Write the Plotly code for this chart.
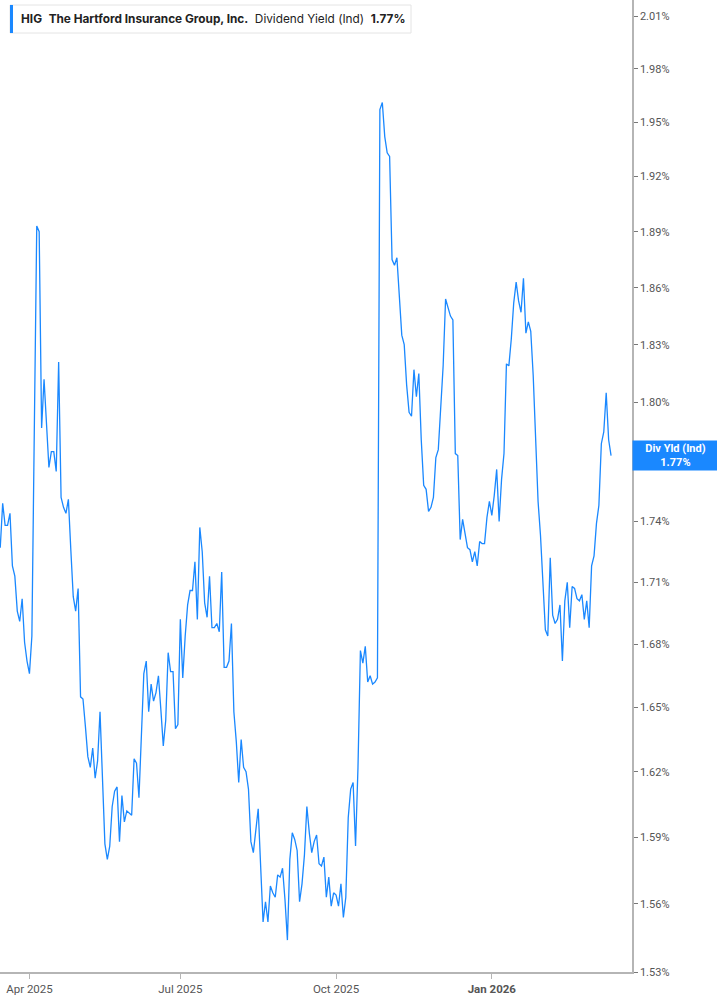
import math
import pandas as pd
import plotly.graph_objects as go

# ---- data -------------------------------------------------------------
ticker = "HIG"
company = "The Hartford Insurance Group, Inc."
metric = "Dividend Yield (Ind)"
short_metric = "Div Yld (Ind)"

holidays = ["2025-04-18", "2025-05-26", "2025-06-19", "2025-07-04", "2025-09-01",
            "2025-11-27", "2025-12-25", "2026-01-01", "2026-01-19", "2026-02-16"]
dates = [d.strftime("%Y-%m-%d") for d in pd.bdate_range("2025-03-14", "2026-03-16")
         if d.strftime("%Y-%m-%d") not in holidays]

dividend_yield = [
    1.727, 1.749, 1.738, 1.738, 1.744, 1.718, 1.713, 1.696, 1.691, 1.702,
    1.681, 1.672, 1.666, 1.684, 1.786, 1.893, 1.890, 1.787, 1.812, 1.790,
    1.767, 1.775, 1.775, 1.765, 1.821, 1.752, 1.747, 1.744, 1.751, 1.726,
    1.703, 1.696, 1.707, 1.655, 1.654, 1.641, 1.627, 1.622, 1.631, 1.617,
    1.625, 1.648, 1.613, 1.587, 1.580, 1.586, 1.604, 1.611, 1.613, 1.588,
    1.609, 1.597, 1.602, 1.601, 1.600, 1.626, 1.624, 1.608, 1.640, 1.666,
    1.672, 1.648, 1.661, 1.653, 1.657, 1.665, 1.649, 1.632, 1.644, 1.676,
    1.667, 1.667, 1.640, 1.642, 1.692, 1.664, 1.684, 1.699, 1.706, 1.706,
    1.720, 1.692, 1.737, 1.725, 1.700, 1.693, 1.713, 1.688, 1.688, 1.690,
    1.686, 1.715, 1.669, 1.669, 1.672, 1.690, 1.648, 1.634, 1.615, 1.635,
    1.622, 1.620, 1.612, 1.588, 1.583, 1.592, 1.603, 1.577, 1.552, 1.561,
    1.552, 1.568, 1.565, 1.563, 1.573, 1.572, 1.576, 1.562, 1.544, 1.580,
    1.592, 1.589, 1.584, 1.561, 1.569, 1.582, 1.604, 1.592, 1.583, 1.588,
    1.591, 1.578, 1.577, 1.581, 1.563, 1.572, 1.559, 1.565, 1.564, 1.559,
    1.569, 1.554, 1.563, 1.599, 1.612, 1.615, 1.586, 1.622, 1.677, 1.671,
    1.679, 1.662, 1.665, 1.661, 1.662, 1.664, 1.957, 1.961, 1.942, 1.933,
    1.931, 1.875, 1.872, 1.876, 1.856, 1.835, 1.830, 1.809, 1.795, 1.793,
    1.817, 1.803, 1.815, 1.781, 1.758, 1.756, 1.745, 1.747, 1.752, 1.772,
    1.776, 1.800, 1.819, 1.854, 1.850, 1.845, 1.843, 1.774, 1.773, 1.731,
    1.741, 1.734, 1.727, 1.726, 1.720, 1.725, 1.718, 1.730, 1.729, 1.729,
    1.742, 1.750, 1.743, 1.753, 1.766, 1.740, 1.761, 1.774, 1.820, 1.819,
    1.833, 1.852, 1.863, 1.853, 1.847, 1.865, 1.836, 1.842, 1.837, 1.814,
    1.781, 1.750, 1.733, 1.710, 1.687, 1.684, 1.722, 1.694, 1.690, 1.692,
    1.699, 1.672, 1.701, 1.710, 1.688, 1.708, 1.707, 1.702, 1.701, 1.704,
    1.692, 1.701, 1.688, 1.718, 1.723, 1.739, 1.748, 1.779, 1.785, 1.805,
    1.781, 1.773,
]

y_ticks = [1.53, 1.56, 1.59, 1.62, 1.65, 1.68, 1.71, 1.74, 1.77, 1.80,
           1.83, 1.86, 1.89, 1.92, 1.95, 1.98, 2.01]
x_tick_dates = ["2025-04-01", "2025-07-01", "2025-10-01", "2026-01-02"]
x_tick_labels = ["Apr 2025", "Jul 2025", "Oct 2025", "<b>Jan 2026</b>"]

n = min(len(dates), len(dividend_yield))
dates = dates[:n]
dividend_yield = dividend_yield[:n]
last_val = dividend_yield[-1]

# ---- figure -----------------------------------------------------------
BLUE = "#1a88ff"
W, H = 717, 1005
ML, MR, MT, MB = 0, 85, 0, 33
PW, PH = W - ML - MR, H - MT - MB


def px(xp):
    return xp / PW


def py(yp):
    return 1 - yp / PH


# the tick hidden behind the last-value flag gets no visible label
y_ticktext = ["" if abs(v - round(last_val, 2)) < 1e-9 else f"{v:.2f}%" for v in y_ticks]

fig = go.Figure()
fig.add_trace(go.Scatter(
    x=dates, y=dividend_yield, mode="lines",
    line=dict(color=BLUE, width=1.3),
    hoverinfo="skip", showlegend=False,
))

fig.update_layout(
    width=W, height=H,
    margin=dict(l=ML, r=MR, t=MT, b=MB, autoexpand=False),
    paper_bgcolor="white", plot_bgcolor="white",
    font=dict(family="Roboto, Arial, sans-serif", size=11, color="#555"),
    xaxis=dict(
        type="category", automargin=False,
        range=[-0.1, n - 1 + 8.6],
        tickmode="array", tickvals=x_tick_dates, ticktext=x_tick_labels,
        showgrid=False, zeroline=False,
        showline=True, linecolor="#b5b5b5", linewidth=1.5,
        ticks="outside", ticklen=5, tickcolor="#b5b5b5", tickwidth=1,
        tickfont=dict(size=11.5, color="#555"),
    ),
    yaxis=dict(
        type="log", automargin=False,
        side="right",
        range=[math.log10(1.53), math.log10(2.0192)],
        tickmode="array", tickvals=y_ticks, ticktext=y_ticktext,
        showgrid=False, zeroline=False,
        showline=True, linecolor="#b5b5b5", linewidth=1.5,
        ticks="outside", ticklen=4, tickcolor="#777", tickwidth=1,
        tickfont=dict(size=11, color="#555"),
    ),
)

# header box
fig.add_shape(type="rect", xref="paper", yref="paper",
              x0=px(10), x1=px(411), y0=py(33), y1=py(5),
              line=dict(color="#e4e4e4", width=1), fillcolor="white", layer="above")
fig.add_shape(type="rect", xref="paper", yref="paper",
              x0=px(10), x1=px(13), y0=py(33), y1=py(5),
              line=dict(width=0), fillcolor=BLUE, layer="above")
sp = "\u00a0\u00a0"
fig.add_annotation(
    xref="paper", yref="paper", x=px(19), y=py(19.5),
    xanchor="left", yanchor="middle", showarrow=False,
    text=f"<b>{ticker}</b>{sp}<b>{company}</b>{sp}{metric}{sp}<b>{last_val:.2f}%</b>",
    font=dict(family="Inter, Roboto, sans-serif", size=11.8, color="#222"),
)

# last value label on the right axis
fig.add_annotation(
    xref="paper", yref="y", x=1, y=math.log10(last_val),
    xanchor="left", yanchor="middle", showarrow=False,
    text=f"<b>{short_metric}</b><br><b>{last_val:.2f}%</b>",
    bgcolor=BLUE, borderpad=1, width=83, align="center",
    font=dict(family="Roboto, Arial, sans-serif", size=11, color="white"),
)

fig.write_html(
    "out.html",
    config={"displayModeBar": False},
    post_script="document.body.style.margin='0';document.body.style.overflow='hidden';",
)
